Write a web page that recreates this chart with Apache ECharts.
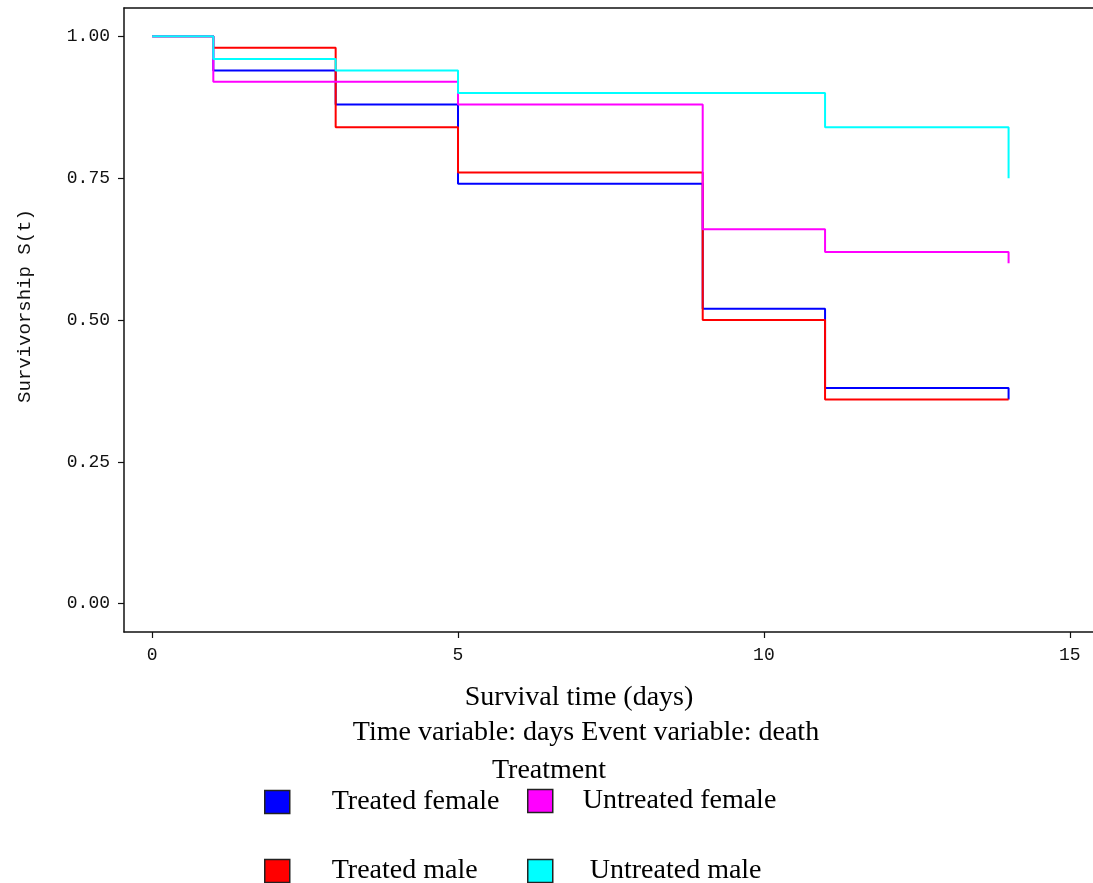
<!DOCTYPE html>
<html>
<head>
<meta charset="utf-8">
<script src="https://cdn.jsdelivr.net/npm/echarts@6/dist/echarts.min.js"></script>
<style>html,body{margin:0;padding:0;background:#fff}#c{width:1093px;height:883px}</style>
</head>
<body>
<div id="c"></div>
<script>
// ---- data ----
var days = [0, 1, 3, 5, 9, 11, 14];
var seriesNames = ['Treated female', 'Treated male', 'Untreated female', 'Untreated male'];
var treatedFemale   = [1.00, 0.94, 0.88, 0.74, 0.52, 0.38, 0.36];
var treatedMale     = [1.00, 0.98, 0.84, 0.76, 0.50, 0.36, 0.36];
var untreatedFemale = [1.00, 0.92, 0.92, 0.88, 0.66, 0.62, 0.60];
var untreatedMale   = [1.00, 0.96, 0.94, 0.90, 0.90, 0.84, 0.75];
var xTicks = [0, 5, 10, 15];
var yTicks = [0, 0.25, 0.5, 0.75, 1.0];

var values = [treatedFemale, treatedMale, untreatedFemale, untreatedMale];
var colors = ['#0000ff', '#ff0000', '#ff00ff', '#00ffff'];

function pairs(ys) { return days.map(function (d, i) { return [d, ys[i]]; }); }

var serif = '"Liberation Serif", "Times New Roman", serif';
var mono = '"Liberation Mono", "DejaVu Sans Mono", monospace';

var series = values.map(function (v, i) {
  return {
    name: seriesNames[i], type: 'line', step: 'end', symbol: 'none',
    data: pairs(v), color: colors[i],
    lineStyle: { color: colors[i], width: 2 },
    itemStyle: { color: colors[i] },
    z: 2 + i, animation: false
  };
});

var legendPos = [
  { left: 264, top: 788, pad: 37 },
  { left: 264, top: 857, pad: 37 },
  { left: 527, top: 787, pad: 25 },
  { left: 527, top: 857, pad: 32 }
];
var legends = seriesNames.map(function (n, i) {
  return {
    data: [n], left: legendPos[i].left, top: legendPos[i].top,
    icon: 'rect', itemWidth: 25, itemHeight: 23, selectedMode: false,
    padding: 0,
    itemStyle: { borderColor: '#222', borderWidth: 1.5 },
    textStyle: { fontFamily: serif, fontSize: 28, color: '#000', padding: [2, 0, 0, legendPos[i].pad] }
  };
});

var chart = echarts.init(document.getElementById('c'), null, { renderer: 'canvas' });
chart.setOption({
  animation: false,
  backgroundColor: '#fff',
  grid: { left: 124, top: 8, right: 0, bottom: 251, containLabel: false },
  legend: legends,
  xAxis: [{
    type: 'value', min: -0.46, max: 15.38,
    axisLine: { show: true, onZero: false, lineStyle: { color: '#111', width: 1.5 } },
    axisTick: { show: true, length: 6, customValues: xTicks, lineStyle: { color: '#111', width: 1.2 } },
    axisLabel: { customValues: xTicks, margin: 14, fontFamily: mono, fontSize: 18, color: '#111' },
    splitLine: { show: false }
  }, {
    type: 'value', position: 'top', min: -0.46, max: 15.38,
    axisLine: { show: true, onZero: false, lineStyle: { color: '#111', width: 1.5 } },
    axisTick: { show: false }, axisLabel: { show: false }, splitLine: { show: false }
  }],
  yAxis: {
    type: 'value', min: -0.05, max: 1.05,
    axisLine: { show: true, onZero: false, lineStyle: { color: '#111', width: 1.5 } },
    axisTick: { show: true, length: 6, customValues: yTicks, lineStyle: { color: '#111', width: 1.2 } },
    axisLabel: {
      customValues: yTicks, margin: 14, fontFamily: mono, fontSize: 18, color: '#111',
      formatter: function (v) { return v.toFixed(2); }
    },
    splitLine: { show: false }
  },
  graphic: [
    { type: 'text', x: 25, y: 306, rotation: Math.PI / 2,
      style: { text: 'Survivorship S(t)', font: '19px ' + mono, fill: '#111', align: 'center', verticalAlign: 'middle' } },
    { type: 'text', x: 579, y: 698,
      style: { text: 'Survival time (days)', font: '28px ' + serif, fill: '#000', align: 'center', verticalAlign: 'middle' } },
    { type: 'text', x: 586, y: 733,
      style: { text: 'Time variable: days Event variable: death', font: '28px ' + serif, fill: '#000', align: 'center', verticalAlign: 'middle' } },
    { type: 'text', x: 549, y: 771,
      style: { text: 'Treatment', font: '28px ' + serif, fill: '#000', align: 'center', verticalAlign: 'middle' } }
  ],
  series: series
});
</script>
</body>
</html>
